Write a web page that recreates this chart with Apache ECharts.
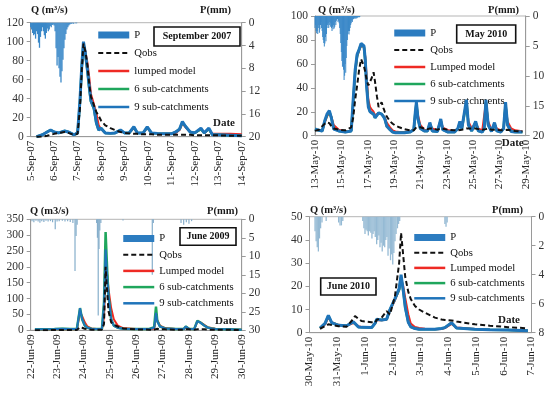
<!DOCTYPE html>
<html><head><meta charset="utf-8">
<script src="https://cdn.jsdelivr.net/npm/echarts@6/dist/echarts.min.js"></script>
<style>html,body{margin:0;padding:0;background:#fff}#c{width:550px;height:393px}</style>
</head><body><div id="c"></div><script>
// ---------- tick labels ----------
const p1Labels = ['5-Sep-07','6-Sep-07','7-Sep-07','8-Sep-07','9-Sep-07','10-Sep-07','11-Sep-07','12-Sep-07','13-Sep-07','14-Sep-07'];
const p2Labels = ['13-May-10','15-May-10','17-May-10','19-May-10','21-May-10','23-May-10','25-May-10','27-May-10','29-May-10'];
const p3Labels = ['22-Jun-09','23-Jun-09','24-Jun-09','25-Jun-09','26-Jun-09','27-Jun-09','28-Jun-09','29-Jun-09','30-Jun-09'];
const p4Labels = ['30-May-10','31-May-10','1-Jun-10','2-Jun-10','3-Jun-10','4-Jun-10','5-Jun-10','6-Jun-10','7-Jun-10'];

// ---------- Panel 1: September 2007 (time in days from first label) ----------
const t1 = [0.25,0.5,0.7,0.85,1.0,1.2,1.45,1.6,1.85,2.0,2.1,2.18,2.25,2.33,2.42,2.5,2.57,2.63,2.7,2.8,2.9,3.0,3.18,3.4,3.6,3.83,4.0,4.2,4.4,4.55,4.8,4.97,5.15,5.4,5.7,6.0,6.19,6.35,6.47,6.6,6.8,7.0,7.26,7.4,7.6,7.75,8.0,8.5,9.0];
const qobs1 = [0,0,1,2,3,4,5,4,2,3, 30,70,98,90,75,55,42,38,33,26, 22,17,12,9,7,5,4,3.5,3,3, 2.5,2.5,2.5,2,2,2,2,2,2,2, 2,1.5,1.5,1.5,1.5,1.5,1.5,1,1];
const lumped1 = [0,2,5,7,5,4,6,5,2,4, 35,72,97,90,78,62,45,40,38,25, 12,8,4,3.5,4,6,4,4,9,4, 4,9,4,3.5,3,3,4,7,14,10, 5,4,8,4,8,3,3,3,2.5];
const sub6_1 = [0,2,5,7,5,4,6,5,2,4, 36,74,98,87,70,50,37,36,29,14, 7,9,4,3.5,4,7,4,4,10,4, 4,10,4,3.5,3,3,5,8,15,11, 5,4,8,4,8,2,2,1.5,1];
const sub9_1 = [0,2,5,7,5,4,6,5,2,4, 38,75,100,88,70,52,38,36,30,15, 7,9,4,3.5,4,7,4,4,10.5,4, 4,10.5,4,3.5,3,3,5,8,16,11, 5,4,9,4,9,2,2,1.5,1];
const rain1 = [0.8,1.2,1.8,2.2,2.0,2.8,1.5,2.0,3.5,4.4,2.5,1.5,0.8,1.5,2.2,2.8,1.8,1.0,1.5,1.2,0.6,0.8,0.4,0.3,0.5,1.5,4.5,7.5,6.0,8.0,9.5,10.5,8.5,6.5,4.5,3.0,2.0,1.2,0.8,0.5,0.3,0.2,0.2,0.1,0.2,0,0.1,0.1]; // hourly

// ---------- Panel 2: May 2010 ----------
const t2 = [0,0.3,0.55,0.74,0.91,1.09,1.24,1.42,1.8,2.3, 2.75,2.9,3.05,3.2,3.35,3.5,3.6,3.72,3.82,3.92, 4.05,4.18,4.3,4.45,4.56,4.7,4.83,4.95,5.06,5.2, 5.3,5.45,5.7,5.9,6.1,6.4,6.8,7.2,7.5,7.62, 7.7,7.82,8.0,8.3,8.55,8.72,8.9,9.3,9.55,9.7, 10.1,10.6,10.85,11.0,11.15,11.3,11.5,11.65,11.9,12.2, 12.4,12.7,12.85,12.98,13.15,13.4,13.63,13.8,14.1,14.32, 14.47,14.62,14.9,15.2,15.6,15.75];
const qobs2 = [4,5,8,10,11,10.5,8,6,5,4.5, 7,15,30,42,55,64,64,58,53,47, 42,43,48,53,45,33,24,26,28,23, 20,16,12,10,8.5,7,5.5,4.5,4.5,5, 7,8,7,6,5.5,6,6,5,6,6, 5,4.5,4.5,5,5,5,6,7,6,6, 5.5,5,5,5.5,6,5,5,5,4.5,4.5, 5,5,4.5,4,3.5,3.5];
const lumped2 = [5,4.5,4,11,16,19,16,9,5,3.5, 4,27,52,66,71,75,76,74,66,50, 30,24,22,20,17,18,19,19,18,17, 15,11,7,4.5,3.5,3,3,3.5,5,18, 26,17,9,5,4.5,10,6,4.5,13,7, 4.5,4,6,11,7,8,28,12,6,11, 6,4.5,6,28,12,5,10,6,4.5,6, 26,12,6,4.5,4,4];
const sub6_2 = [5.6,4.5,4,12,17,20,15,6,4,3, 4,28,53,67,72,76,77,74,62,42, 25,20,21,18,15,17,19,18.5,18,16, 14,8,5,3,2.5,2.5,2.5,3,5,19, 27,14,6,4,4,10,4,3.5,13,5, 3,3,6,11,6,7,28,9,4,11, 4,3,6,28,9,3.5,10,4,3,6, 26,9,3.5,3,3,3];
const sub9_2 = [5.6,4.5,4,12.5,18,21,15,5.6,4,3, 4,30,55,68,72,77,78,75,63,41, 24,20,21,18,15,17,19,18.7,18,16, 14,8,5,3,2.5,2.5,2.5,3,5,20, 28,14,6,4,4,11,4,3.5,14,5, 3,3,6,12,6,7,30,9,4,12, 4,3,6,30,9,3.5,11,4,3,6, 28,9,3.5,3,3,3];
const rain2 = [2,1.5,2.5,2.9, 2.5,3,2,1.5,2.8,2.2, 1.5,1,2,2.5,3.5, 4,4.5,5.1,4.6,3.5,4.2,3,2, 1.5,1.2,2,1.5,1,1.8,1.2, 2,2.5,1.8,2.2,1.5,2.1,1.8,1,1.5,0.8,0.5, 0.5,1,0.8,1.2,2,3,4.5, 6,7.5,8.5,7,9,10.7,10,8,9.5,7,5,4,3, 2.5,3.1,2.5,2,1.5,1.2,0.8,1,0.6,0.5, 0.4,0.3,0.5,0.3,0.2,0.4,0.3,0.2,0.2,0.1,0.2,0.1]; // hourly

// ---------- Panel 3: June 2009 ----------
const t3 = [0.16,0.5,0.9,1.2,1.5,1.75,1.8,1.87,1.95,2.05, 2.15,2.3,2.5,2.7,2.78,2.84,2.9,2.95,3.05,3.15, 3.3,3.5,4.0,4.5,4.68,4.75,4.8,4.9,5.1,5.5, 5.8,5.88,6.0,6.2,6.32,6.42,6.58,6.7,6.85,7.0, 7.5,8.0];
const qobs3 = [0,0,1,1,1,1,3,10,8,5, 3,2,2,2,20,200,120,60,25,18, 12,6,3,2,2,5,5,4,3,2, 2,3,3,2,3,3,3,2,2,2, 1.5,1];
const lumped3 = [2,2,3,4,3,3,6,55,45,25, 12,6,4,4,40,190,175,130,70,35, 15,7,4,4,5,40,32,15,7,4, 4,10,5,4,28,26,17,10,7,5, 3,2];
const sub6_3 = [3,3,4,5,4,4,10,70,35,15, 8,5,4,4,90,310,190,110,35,15, 8,5,4,4,10,75,30,12,6,4, 4,12,5,4,30,25,15,9,6,4, 3,2];
const sub9_3 = [3,3,4,5,4,4,10,70,35,15, 8,5,4,4,80,255,170,110,35,15, 8,5,4,4,8,55,28,12,6,4, 4,12,5,4,29,25,15,9,6,4, 3,2];
const rainDay3 = [0.05,0.12,0.2,0.28,0.35,0.42,0.5,0.58,0.66,0.75,0.83,0.93,1.0,1.08,1.2,1.3,1.4,1.5,1.6,1.68,1.72,1.76,2.5,2.53,2.56,2.59,2.62,2.66,3.5,4.61,4.65,5.7,5.8,5.9,6.0,6.1];
const rain3 = [0.5,0.8,0.4,0.6,0.9,0.5,0.7,0.4,0.6,0.5,0.8,2.7,0.6,0.5,0.4,0.6,0.5,0.7,1.0,14,4.5,1.5,1.0,5,26,8,3,1.0,0.3,15,1.0,1.0,1.5,0.8,1.2,0.5];

// ---------- Panel 4: June 2010 ----------
const t4 = [0.38,0.44,0.56,0.68,0.8,1.04,1.34,1.58,1.64,1.76, 1.88,2.24,2.36,2.42,2.48,2.6,2.78,2.9,3.08,3.23, 3.3,3.38,3.45,3.56,3.65,3.8,3.95,4.16,4.52,4.76, 4.88,5.12,5.3,5.96,6.5,7.15,7.87];
const qobs4 = [1.7,1.9,2.8,3.6,3.3,2.8,2.6,6,7.2,6, 5,4.5,4.3,5.5,6.3,6.5,9.3,7.8,15.8,30, 43,33,24,17.6,14.5,11.5,10,8.6,6.5,5.7, 5.5,5.3,4.8,3.6,3,2.4,1.9];
const lumped4 = [1.8,2,3.5,6.5,4.5,3.4,3,4.2,4,2.8, 2.5,2.3,3.8,5.4,5.4,5.4,5.6,9.5,14,18.5, 23,20,15,8,4,2.5,2,1.7,1.5,1.6, 2,3.8,2.2,1.6,1.3,1.2,0.9];
const sub6_4 = [2,2.2,4,7.3,4.3,3.2,3,4.6,4,2.5, 2.3,2.2,4,5.7,5.6,5.5,5.8,10,14.5,18.5, 24,18,11,4.5,2.5,1.8,1.5,1.5,1.5,1.8, 2.2,4.2,2,1.5,1.3,1.2,0.8];
const sub9_4 = [2,2.2,4,7.5,4.3,3.2,3,4.7,4,2.5, 2.3,2.2,4,5.8,5.6,5.5,5.8,10,14.7,19, 25,18,11,4.5,2.5,1.8,1.5,1.5,1.5,1.8, 2.2,4.3,2,1.5,1.3,1.2,0.8];
const rainDay4 = [0.2,0.24,0.28,0.32,0.36,0.4,0.45,0.6,1.05,1.1,1.15,1.2, 1.92,1.96,2.0,2.04,2.08,2.12,2.17,2.21,2.25,2.29,2.33,2.37,2.42,2.46,2.5,2.54,2.58,2.62,2.67,2.71,2.75,2.79,2.83,2.87,2.92,2.96,3.0,3.04,3.08,3.12,3.17,3.21,3.25, 4.88,4.92,4.96];
const rain4 = [1.0,1.7,2.1,2.4,1.5,0.8,0.4,0.3,0.4,0.6,0.6,0.3, 0.3,0.8,1.2,0.9,1.0,1.3,1.0,1.1,1.5,1.2,1.0,1.4,1.9,1.6,1.3,2.1,1.8,2.4,2.0,2.1,1.6,1.4,2.7,2.2,3.0,2.6,3.3,2.5,1.7,1.2,0.8,0.5,0.3, 0.5,0.7,0.4];

// ---------- build ----------
const F = 'Liberation Serif';
const pair = (t, v) => t.map((d, i) => [d, v[i]]);
const panels = [
  {t:t1, q:qobs1, l:lumped1, s6:sub6_1, s9:sub9_1, rain: rain1.map((v,h)=>[h/24, v]), lname:'lumped model',
   grid:{left:30.7, top:22.7, width:211, height:114}, qMax:120, qInt:20, pMax:20, pInt:4, xMax:9, xInt:1, labels:p1Labels,
   pColor:'#3a88c8', barW:1.3, w9:3, leg:{left:97, top:29, gap:6}},
  {t:t2, q:qobs2, l:lumped2, s6:sub6_2, s9:sub9_2, rain: rain2.map((v,h)=>[h/24, v]), lname:'Lumped model',
   grid:{left:315, top:16, width:210.7, height:119.7}, qMax:100, qInt:20, pMax:20, pInt:5, xMax:16, xInt:2, labels:p2Labels,
   pColor:'#3a88c8', barW:1, w9:3, leg:{left:393, top:27, gap:5}},
  {t:t3, q:qobs3, l:lumped3, s6:sub6_3, s9:sub9_3, rain: pair(rainDay3, rain3), lname:'Lumped model',
   grid:{left:30.7, top:219.3, width:211, height:111}, qMax:350, qInt:50, pMax:30, pInt:5, xMax:8, xInt:1, labels:p3Labels,
   pColor:'#86aecb', barW:1.2, w9:2, leg:{left:122, top:232.5, gap:4.2}},
  {t:t4, q:qobs4, l:lumped4, s6:sub6_4, s9:sub9_4, rain: pair(rainDay4, rain4), lname:'Lumped model',
   grid:{left:309.5, top:216.7, width:222, height:116}, qMax:50, qInt:10, pMax:8, pInt:2, xMax:8, xInt:1, labels:p4Labels,
   pColor:'#95bad4', barW:1.3, w9:3, leg:{left:413, top:231.5, gap:3.2}}
];
const BLUE = '#1f74ba', RED = '#ee2a24', GREEN = '#1fa65c';
const axisCol = '#9a9a9a';
const grids = [], xAxes = [], yAxes = [], series = [], legends = [];
const hideSym = {opacity:0, color:'transparent', borderColor:'transparent', borderWidth:0};
panels.forEach((p, i) => {
  grids.push(Object.assign({show:true, borderColor:'#b5b5b5', borderWidth:1, backgroundColor:'transparent'}, p.grid));
  xAxes.push({gridIndex:i, type:'value', min:0, max:p.xMax, interval:p.xInt,
    axisLine:{show:true, onZero:false, lineStyle:{color:axisCol}}, axisTick:{show:false}, splitLine:{show:false},
    axisLabel:{rotate:90, margin:4, fontFamily:F, fontSize:11, color:'#222', showMinLabel:true, showMaxLabel:true,
      formatter:(v)=>p.labels[Math.round(v/p.xInt)] || ''}});
  yAxes.push({gridIndex:i, type:'value', position:'left', min:0, max:p.qMax, interval:p.qInt,
    axisLine:{show:true, lineStyle:{color:axisCol}}, axisTick:{show:true, length:4, lineStyle:{color:axisCol}},
    splitLine:{show:false}, axisLabel:{margin:7, fontFamily:F, fontSize:11.5, color:'#333'}});
  yAxes.push({gridIndex:i, type:'value', position:'right', inverse:true, min:0, max:p.pMax, interval:p.pInt,
    axisLine:{show:true, lineStyle:{color:axisCol}}, axisTick:{show:true, length:4, lineStyle:{color:axisCol}},
    splitLine:{show:false}, axisLabel:{margin:7, fontFamily:F, fontSize:11.5, color:'#333'}});
  series.push({type:'bar', name:'P', xAxisIndex:i, yAxisIndex:2*i+1, data:p.rain, barWidth:p.barW,
    itemStyle:{color:p.pColor}, z:1, silent:true});
  const line = (name, data, color, width, type, z) => ({type:'line', name, xAxisIndex:i, yAxisIndex:2*i,
    data:pair(p.t, data), symbol:'none', showSymbol:false, z, silent:true,
    lineStyle:{color, width, type}, itemStyle:{color}});
  series.push(line(p.lname, p.l, RED, 2, 'solid', 2));
  series.push(line('6 sub-catchments', p.s6, GREEN, 2.5, 'solid', 3));
  series.push(line('9 sub-catchments', p.s9, BLUE, p.w9, 'solid', 4));
  series.push(line('Qobs', p.q, '#111', 2, [5,3], 5));
  legends.push({orient:'vertical', left:p.leg.left, top:p.leg.top, padding:0, itemWidth:31, itemHeight:7,
    itemGap:p.leg.gap, selectedMode:false,
    textStyle:{fontFamily:F, fontSize:10.7, color:'#111', lineHeight:12},
    data:[{name:'P', icon:'rect', itemStyle:{color:'#2c7cc0'}},
          {name:'Qobs', itemStyle:hideSym, lineStyle:{color:'#111', width:2, type:[5,3]}},
          {name:p.lname, itemStyle:hideSym, lineStyle:{color:RED, width:2.5}},
          {name:'6 sub-catchments', itemStyle:hideSym, lineStyle:{color:GREEN, width:2.5}},
          {name:'9 sub-catchments', itemStyle:hideSym, lineStyle:{color:BLUE, width:2.5}}]});
});

const txt = (text, x, y, size, bold, align) => ({type:'text', x, y, z:100, silent:true,
  style:{text, fill:'#1a1a1a', font:(bold?'bold ':'') + size + 'px "Liberation Serif"', textAlign:align||'left', textVerticalAlign:'middle'}});
const box = (text, x, y, w, h) => ({type:'group', z:100, children:[
  {type:'rect', shape:{x, y, width:w, height:h}, style:{fill:'#fff', stroke:'#111', lineWidth:1.6}, z:100},
  {type:'text', x:x+w/2, y:y+h/2, z:101, style:{text, fill:'#111', font:'bold 10px "Liberation Serif"', textAlign:'center', textVerticalAlign:'middle'}}
]});
const graphics = [
  txt('Q (m³/s)', 31, 10, 10.5, true), txt('P(mm)', 200, 10, 10.5, true),
  txt('Q (m³/s)', 318, 10, 10.5, true), txt('P(mm)', 488, 10, 10.5, true),
  txt('Q (m3/s)', 30, 211.7, 10.5, true), txt('P(mm)', 207, 211.7, 10.5, true),
  txt('Q (m³/s)', 310, 210, 10.5, true), txt('P(mm)', 492, 210, 10.5, true),
  txt('Date', 213, 122.7, 11, true), txt('Date', 501.7, 143.3, 11, true),
  txt('Date', 215, 321, 11, true), txt('Date', 498, 320.3, 11, true),
  box('September 2007', 154, 27, 86, 19), box('May 2010', 456.7, 25, 59, 18),
  box('June 2009', 180, 227.7, 56, 17.6), box('June 2010', 320.7, 278, 55.3, 17)
];

const chart = echarts.init(document.getElementById('c'), null, {renderer:'canvas'});
chart.setOption({animation:false, backgroundColor:'#fff', grid:grids, xAxis:xAxes, yAxis:yAxes,
  legend:legends, series, graphic:graphics});
</script></body></html>
